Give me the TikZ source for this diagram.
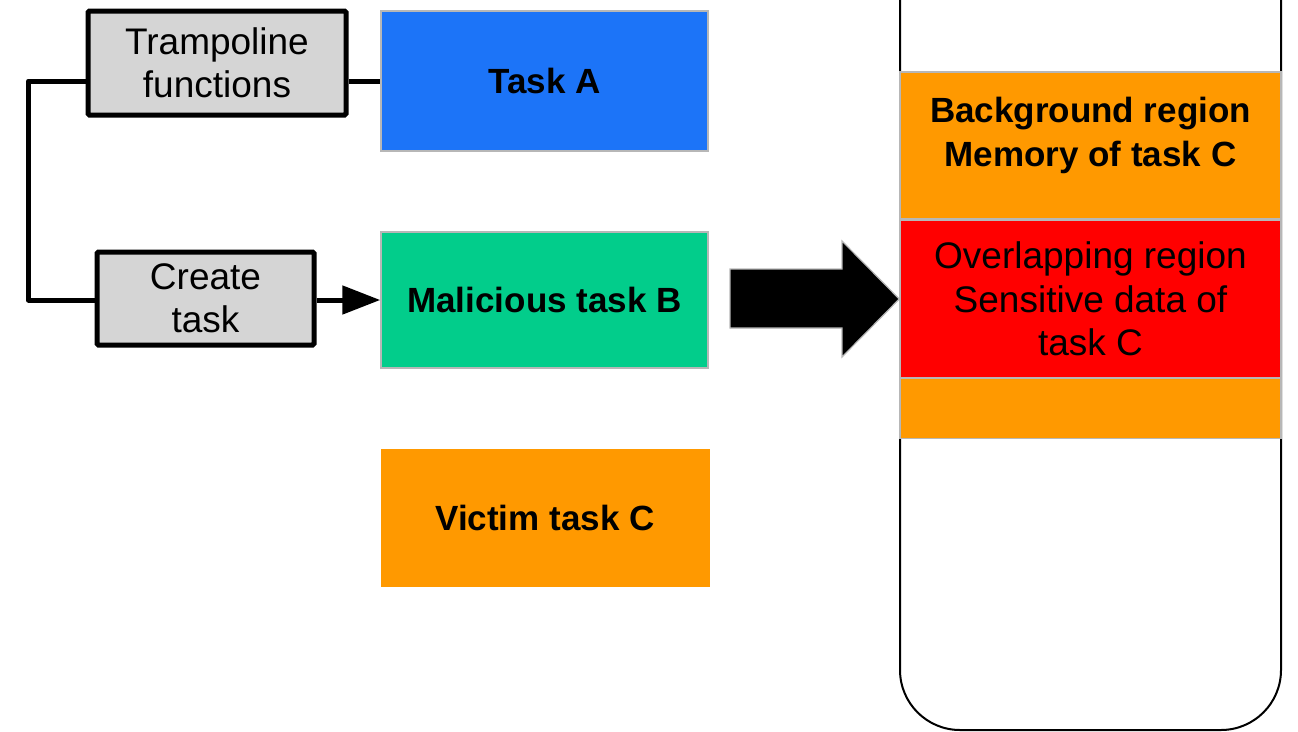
\documentclass[tikz,border=0pt]{standalone}
\usepackage{fontspec}
\setmainfont{Liberation Sans}
\usetikzlibrary{arrows.meta}

\definecolor{taskblue}{RGB}{28,116,248}
\definecolor{taskgreen}{RGB}{2,205,139}
\definecolor{taskorange}{RGB}{255,153,0}
\definecolor{taskred}{RGB}{255,0,0}
\definecolor{boxgray}{RGB}{213,213,213}
\definecolor{edgegray}{RGB}{183,183,183}

\tikzset{
  funcbox/.style={draw=black, line width=5pt, fill=boxgray, rounded corners=1.5pt,
    align=center, inner sep=0pt, font=\fontsize{37}{43}\selectfont},
  taskbox/.style={draw=edgegray, line width=1.5pt, minimum width=327pt, inner sep=0pt,
    font=\fontsize{35}{43}\bfseries\selectfont},
  region/.style={draw=edgegray, line width=1.5pt, minimum width=381pt, inner sep=0pt},
  wire/.style={line width=5pt, line join=round},
  boldlabel/.style={align=center, inner sep=0pt, font=\fontsize{35}{44}\bfseries\selectfont},
  plainlabel/.style={align=center, inner sep=0pt, text=black, font=\fontsize{37}{43.5}\selectfont}
}

\begin{document}
\begin{tikzpicture}[x=1pt, y=-1pt]
\useasboundingbox (0,0) rectangle (1298,731);

% helper functions
\node[funcbox, minimum width=258pt, minimum height=104pt] (tramp) at (217,63) {Trampoline\\functions};
\node[funcbox, minimum width=217pt, minimum height=93pt] (create) at (205.5,298.5) {Create\\task};

% tasks
\node[taskbox, fill=taskblue, minimum height=140pt] (taska) at (544.5,81) {Task A};
\node[taskbox, fill=taskgreen, minimum height=136pt] (malb) at (544.5,300) {Malicious task B};
\node[taskbox, fill=taskorange, draw=none, minimum height=138pt, minimum width=329pt] (victc) at (545,518) {Victim task C};

% memory column
\draw[line width=2pt, rounded corners=60pt] (900,-5) -- (900,730) -- (1281,730) -- (1281,-5);
\node[region, fill=taskorange, minimum height=147pt] (bgreg) at (1090.5,145.5) {};
\node[region, fill=taskred, minimum height=158pt] (overlap) at (1090.5,299) {};
\node[region, fill=taskorange, minimum height=60pt] (tail) at (1090.5,408.5) {};
\node[boldlabel] (bgtext) at ([yshift=10pt]bgreg.center) {Background region\\Memory of task C};
\node[plainlabel] (ovtext) at (overlap.center) {Overlapping region\\Sensitive data of\\task C};

% connectors
\draw[wire] (tramp.east |- taska.west) -- (taska.west);
\draw[wire] (tramp.west |- taska.west) -- ++(-57,0) |- (create.west |- malb.west);
\draw[wire, -{Triangle[length=38pt,width=28pt]}] (create.east |- malb.west) -- (malb.west);

% big arrow into the overlapping region
\coordinate (tip) at (overlap.west);
\draw[draw=edgegray, line width=1.2pt, fill=black, line join=miter]
  (730,269) -- (842,269) -- (842,241) -- (tip) -- (842,357) -- (842,328) -- (730,328) -- cycle;
\end{tikzpicture}
\end{document}
